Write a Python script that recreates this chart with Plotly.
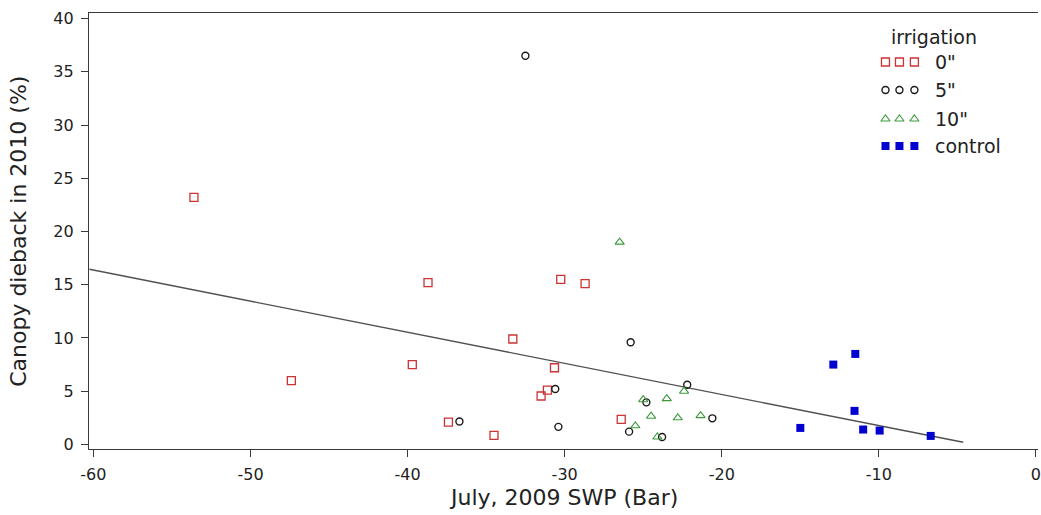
import plotly.graph_objects as go

# July 2009 stem water potential (bar) vs. 2010 canopy dieback (%), by irrigation level
swp_0in = [-53.6, -47.4, -39.7, -38.7, -37.4, -34.5, -33.3, -31.5, -31.1, -30.65, -30.25, -28.7, -26.4]
dieback_0in = [23.2, 6.0, 7.5, 15.2, 2.1, 0.85, 9.9, 4.55, 5.1, 7.2, 15.5, 15.1, 2.35]

swp_5in = [-32.5, -25.8, -30.6, -36.7, -30.4, -22.2, -24.8, -20.6, -25.9, -23.8]
dieback_5in = [36.5, 9.6, 5.2, 2.15, 1.65, 5.6, 3.95, 2.45, 1.2, 0.7]

swp_10in = [-26.5, -22.4, -23.5, -25.0, -24.5, -22.8, -21.35, -25.5, -24.1]
dieback_10in = [19.0, 5.0, 4.3, 4.2, 2.65, 2.5, 2.7, 1.75, 0.7]

swp_control = [-15.0, -12.9, -11.5, -11.55, -11.0, -9.95, -6.7]
dieback_control = [1.55, 7.5, 8.5, 3.15, 1.4, 1.3, 0.8]

# fitted regression line, end points
fit_swp = [-60.25, -4.63]
fit_dieback = [16.45, 0.2]

x_ticks = [-60, -50, -40, -30, -20, -10, 0]
x_tick_text = ["-60", "-50", "-40", "-30", "-20", "-10", "0"]
y_ticks = [0, 5, 10, 15, 20, 25, 30, 35, 40]

legend_title = "irrigation"
legend_labels = ['0"', '5"', '10"', "control"]

FONT = "DejaVu Sans, Verdana, sans-serif"
TEXT = "#222222"
AXIS = "#3a3a3a"

styles = [
    dict(symbol="square-open", size=8, color="#cc3333", line=dict(width=1.3, color="#cc3333")),
    dict(symbol="circle-open", size=7, color="#1a1a1a", line=dict(width=1.4, color="#1a1a1a")),
    dict(symbol="triangle-up-open", size=8, color="#3c9a3c", line=dict(width=1.1, color="#3c9a3c")),
    dict(symbol="square", size=8, color="#0000d0", line=dict(width=0)),
]
series = [
    (swp_0in, dieback_0in),
    (swp_5in, dieback_5in),
    (swp_10in, dieback_10in),
    (swp_control, dieback_control),
]

fig = go.Figure()

fig.add_trace(go.Scatter(
    x=fit_swp, y=fit_dieback, mode="lines",
    line=dict(color="#505050", width=1.4), showlegend=False, hoverinfo="skip",
))

for (xs, ys), st, name in zip(series, styles, legend_labels):
    fig.add_trace(go.Scatter(x=xs, y=ys, mode="markers", marker=st, name=name, showlegend=False))

# key drawn on a pixel-scaled overlay: three glyphs per row, label to the right
key_rows_y = [62, 90, 119, 146]
key_glyph_x = [888, 902, 917]
key_text_x = 936
for row_y, st in zip(key_rows_y, styles):
    fig.add_trace(go.Scatter(
        x=key_glyph_x, y=[row_y] * 3, mode="markers", marker=st,
        xaxis="x2", yaxis="y2", showlegend=False, hoverinfo="skip",
    ))

annotations = [
    dict(text=legend_title, x=937, y=37, xref="x2", yref="y2", showarrow=False,
         xanchor="center", yanchor="middle", font=dict(family=FONT, size=19, color=TEXT)),
]
for row_y, label in zip(key_rows_y, legend_labels):
    annotations.append(dict(
        text=label, x=key_text_x, y=row_y, xref="x2", yref="y2", showarrow=False,
        xanchor="left", yanchor="middle", font=dict(family=FONT, size=19, color=TEXT),
    ))

annotations.append(dict(
    text="July, 2009 SWP (Bar)", x=0.5, y=-0.112, xref="paper", yref="paper",
    showarrow=False, xanchor="center", yanchor="middle",
    font=dict(family=FONT, size=22, color=TEXT),
))
annotations.append(dict(
    text="Canopy dieback in 2010 (%)", x=-0.075, y=0.5, xref="paper", yref="paper",
    showarrow=False, xanchor="center", yanchor="middle", textangle=-90,
    font=dict(family=FONT, size=22, color=TEXT),
))

fig.update_layout(
    width=1041, height=515,
    margin=dict(l=89, r=0, t=13, b=66),
    paper_bgcolor="white", plot_bgcolor="white",
    showlegend=False,
    annotations=annotations,
    xaxis=dict(
        range=[-60.28, 0.13], tickmode="array", tickvals=x_ticks, ticktext=x_tick_text,
        showline=True, linecolor=AXIS, linewidth=1.3, mirror=True,
        ticks="outside", ticklen=7, tickcolor=AXIS, tickwidth=1.2,
        ticklabelstandoff=4, ticklabeloverflow="allow",
        showgrid=False, zeroline=False,
        tickfont=dict(family=FONT, size=16, color=TEXT),
    ),
    yaxis=dict(
        range=[-0.43, 40.52], tickmode="array", tickvals=y_ticks,
        showline=True, linecolor=AXIS, linewidth=1.3,
        ticks="outside", ticklen=7, tickcolor=AXIS, tickwidth=1.2,
        ticklabelstandoff=4,
        showgrid=False, zeroline=False,
        tickfont=dict(family=FONT, size=16, color=TEXT),
    ),
    xaxis2=dict(overlaying="x", range=[89, 1041], visible=False, fixedrange=True),
    yaxis2=dict(overlaying="y", range=[449, 13], visible=False, fixedrange=True),
)

fig.write_html("out.html")
